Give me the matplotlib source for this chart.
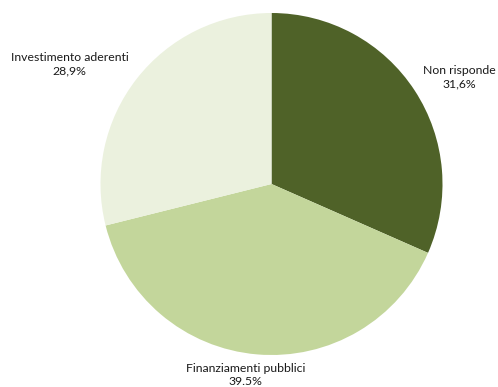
import matplotlib.pyplot as plt

categories = ['Non risponde', 'Finanziamenti pubblici', 'Investimento aderenti']
values = [31.6, 39.5, 28.9]
value_labels = ['31,6%', '39.5%', '28,9%']
colors = ['#4F6228', '#C3D69B', '#EBF1DE']

# label anchor points (pixel coords, origin bottom-left)
label_pos = [(459.5, 309.5), (245.5, 12), (69.5, 323)]

fig = plt.figure(figsize=(4.98, 3.87), dpi=100)
ax = fig.add_axes([0, 0, 1, 1])

ax.pie(values, colors=colors, startangle=90, counterclock=False,
       center=(271.5, 203), radius=171, frame=True,
       wedgeprops=dict(linewidth=0))
ax.set_xlim(0, 498)
ax.set_ylim(0, 387)
ax.set_aspect('equal')
ax.axis('off')

for name, lab, (x, y) in zip(categories, value_labels, label_pos):
    ax.text(x, y, name + '\n' + lab, ha='center', va='center',
            fontsize=8.8, family=['Lato', 'DejaVu Sans'], color='#1a1a1a',
            linespacing=1.3)

fig.savefig('out.png', dpi=100)
